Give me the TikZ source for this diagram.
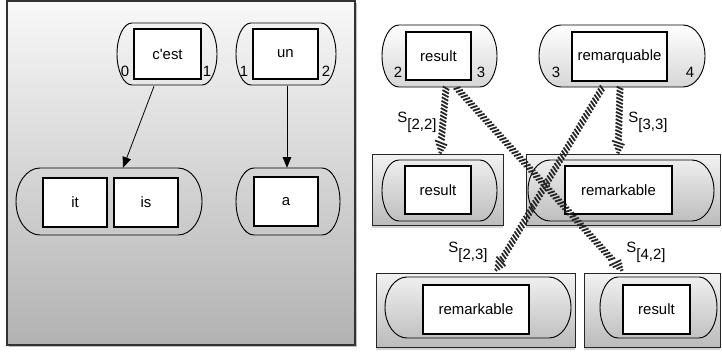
\documentclass[tikz,border=0pt]{standalone}
\usepackage{fontspec}
\newfontfamily\hv{Liberation Sans}
\usetikzlibrary{calc,shadows,arrows.meta,decorations.markings}
\definecolor{hatchc}{HTML}{262626}
\definecolor{pantop}{HTML}{F8F8F8}
\definecolor{panbot}{HTML}{B2B2B2}
\definecolor{frtop}{HTML}{F2F2F2}
\definecolor{frbot}{HTML}{BBBBBB}
\definecolor{pltop}{HTML}{FFFFFF}
\definecolor{plbot}{HTML}{D6D6D6}
\tikzset{
  txt/.style={font=\hv\fontsize{11.2}{13}\selectfont, inner sep=0pt},
  wbox/.style={txt, draw=black, line width=0.8pt, fill=white,
    drop shadow={shadow xshift=0.9pt, shadow yshift=-0.9pt, opacity=0.55}},
  panel/.style={draw=black!80, line width=0.8pt, top color=pantop, bottom color=panbot,
    drop shadow={shadow xshift=1.2pt, shadow yshift=-1.2pt, opacity=0.5}},
  frbox/.style={draw=black!85, line width=0.7pt, top color=frtop, bottom color=frbot,
    drop shadow={shadow xshift=0pt, shadow yshift=-2pt, opacity=0.35}},
  pillline/.style={draw=black, line width=0.7pt},
  pillfill/.style={pillline, top color=pltop, bottom color=plbot},
  lbl/.style={txt},
  arr/.style={draw=black, line width=0.6pt, -{Triangle[length=8pt,width=6.5pt]}},
  hatch/.style={decorate, decoration={markings,
    mark=between positions 0 and -10.5pt step 2.7pt with
      {\draw[hatchc, line width=1.35pt] (-1.1pt,-2.5pt) -- (1.1pt,2.5pt);},
    mark=at position -8.8pt with {\draw[hatchc, line width=1.3pt] (-1.4pt,-4.7pt) -- (1.4pt,4.7pt);},
    mark=at position -6.3pt with {\draw[hatchc, line width=1.3pt] (-1.1pt,-3.6pt) -- (1.1pt,3.6pt);},
    mark=at position -3.8pt with {\draw[hatchc, line width=1.3pt] (-0.8pt,-2.4pt) -- (0.8pt,2.4pt);},
    mark=at position -1.4pt with {\draw[hatchc, line width=1.2pt] (-0.4pt,-1.2pt) -- (0.4pt,1.2pt);}
  }}
}
% pill: [style]{name}{x1}{y1}{x2}{y2}{rx}
\newcommand\pillat[7][pillline]{%
  \draw[#1] ({#3+#7},#4) -- ({#5-#7},#4)
    arc[start angle=-90, end angle=90, x radius=#7, y radius={(#6-#4)/2}]
    -- ({#3+#7},#6)
    arc[start angle=90, end angle=270, x radius=#7, y radius={(#6-#4)/2}] -- cycle;
  \node[inner sep=0pt, minimum width={(#5-#3)*0.75pt}, minimum height={(#6-#4)*0.75pt}]
    (#2) at ({(#3+#5)/2},{(#4+#6)/2}) {};
}
% rect: {name}{cx}{cy}{w}{h}{text}
\newcommand\rectat[6]{%
  \node[wbox, minimum width={#4*0.75pt}, minimum height={#5*0.75pt}] (#1) at (#2,#3) {#6};
}
% frame: {name}{x1}{y1}{x2}{y2}
\newcommand\frameat[5]{%
  \node[frbox, inner sep=0pt, minimum width={(#4-#2)*0.75pt}, minimum height={(#5-#3)*0.75pt}]
    (#1) at ({(#2+#4)/2},{(#3+#5)/2}) {};
}
\begin{document}
\begin{tikzpicture}[x=0.75pt, y=-0.75pt]
\useasboundingbox (0,0) rectangle (722,351);

% ---------- left panel ----------
\node[panel, inner sep=0pt, minimum width={348*0.75pt}, minimum height={344*0.75pt}] (leftpanel) at (181,173) {};

\pillat{cestp}{117}{23}{217}{85}{15}
\pillat{unp}{236}{23}{336}{85}{15}
\pillat{itisp}{16}{168}{202}{235}{24}
\pillat{ap}{236}{168}{340}{235}{18}

\rectat{cest}{167.5}{54}{67}{50}{c'est}
\rectat{un}{285.5}{54}{65}{50}{un}
\rectat{it}{75}{202.5}{64}{49}{it}
\rectat{is}{146}{202.5}{64}{49}{is}
\rectat{a}{286}{201.5}{64}{49}{a}

\node[lbl] (n0) at (125,71) {0};
\node[lbl] (n1a) at (207,71) {1};
\node[lbl] (n1b) at (244,71) {1};
\node[lbl] (n2a) at (326,71) {2};

\draw[arr] ($(cestp.south)+(-13,1)$) -- ($(itisp.north)+(14,0)$);
\draw[arr] ($(unp.south)+(1,1)$) -- ($(ap.north)+(-1,0)$);

% ---------- right side ----------
\pillat[pillfill]{resp}{382}{25}{497}{87}{17}
\pillat[pillfill]{remp}{539}{25}{705}{87}{22}
\rectat{res}{438.5}{56}{65}{48}{result}
\rectat{rem}{619.5}{56.5}{95}{49}{remarquable}
\node[lbl] (n2b) at (398,72) {2};
\node[lbl] (n3a) at (481,72) {3};
\node[lbl] (n3b) at (556,72) {3};
\node[lbl] (n4) at (690,72) {4};

\frameat{frA}{372}{154}{503}{225}
\frameat{frB}{526}{154}{720}{225}
\frameat{frC}{376}{273}{575}{347}
\frameat{frD}{584}{273}{720}{347}

\pillat{pA}{382}{160}{497}{221}{17}
\pillat{pB}{528}{160}{714}{221}{22}
\pillat{pC}{385}{277}{571}{338}{22}
\pillat{pD}{600}{277}{717}{338}{18}

\rectat{resA}{438}{190}{66}{48}{result}
\rectat{remB}{618.5}{190}{107}{48}{remarkable}
\rectat{remC}{476}{309.5}{106}{49}{remarkable}
\rectat{resD}{656.5}{309.5}{67}{49}{result}

\path[hatch] ($(resp.south)+(6.5,1)$) -- ($(frA.north)+(2.5,1)$);
\path[hatch] ($(resp.south)+(17.5,1)$) -- ($(frD.north)+(-29,-1)$);
\path[hatch] ($(remp.south)+(-20,1)$) -- ($(frC.north)+(19.5,-1)$);
\path[hatch] ($(remp.south)+(-2,1)$) -- ($(frB.north)+(-5,1)$);

\node[lbl] (s22) at (417,122) {S\raisebox{-5pt}{[2,2]}};
\node[lbl] (s33) at (648,122) {S\raisebox{-5pt}{[3,3]}};
\node[lbl] (s23) at (468,252) {S\raisebox{-5pt}{[2,3]}};
\node[lbl] (s42) at (646,252) {S\raisebox{-5pt}{[4,2]}};
\end{tikzpicture}
\end{document}
